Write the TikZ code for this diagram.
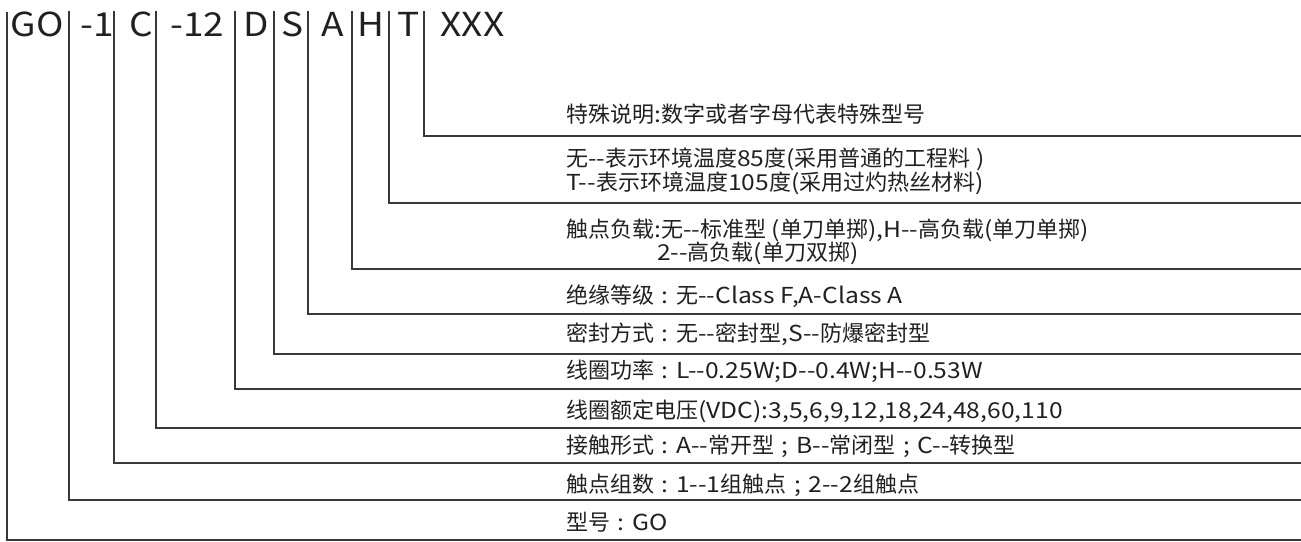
\documentclass[tikz,border=0pt]{standalone}
\usepackage{fontspec}
\setmainfont{Noto Sans CJK SC}[FakeStretch=1.12, Ligatures=TeXOff]
\newfontfamily\latf{Noto Sans CJK SC}[FakeStretch=1.12, Ligatures=TeXOff]
\newfontfamily\cjkf{Noto Sans CJK SC}[Ligatures=TeXOff]
\XeTeXinterchartokenstate=1
\newXeTeXintercharclass\cjkcls
\newcount\cjkcc
\cjkcc="4E00
\loop \XeTeXcharclass\cjkcc=\cjkcls \ifnum\cjkcc<"9FFF \advance\cjkcc by 1 \repeat
\XeTeXinterchartoks 0 \cjkcls = {\cjkf}
\XeTeXinterchartoks 4095 \cjkcls = {\cjkf}
\XeTeXinterchartoks \cjkcls 0 = {\latf}
\XeTeXinterchartoks \cjkcls 4095 = {\latf}
\newcommand\fcolon{\makebox[1em][c]{:}}
\newcommand\fsemi{\makebox[1em][c]{;}}
\definecolor{linec}{HTML}{3C3836}
\definecolor{txt}{HTML}{231F20}
\tikzset{
  conn/.style={draw=linec, line width=1.4pt},
  head/.style={font=\fontsize{33}{36}\selectfont, text=txt, inner sep=0pt, anchor=base},
  lab/.style={font=\fontsize{22}{24}\selectfont, text=txt, inner sep=0pt, anchor=base west},
}
\begin{document}
\begin{tikzpicture}[x=1pt,y=-1pt]
\useasboundingbox (0,0) rectangle (1301,541);
% header codes
\node[head] (hGO) at (37,36) {GO};
\node[head] (h1) at (97,36) {-1};
\node[head] (hC) at (141.5,36) {C};
\node[head] (h12) at (197.5,36) {-12};
\node[head] (hD) at (256,36) {D};
\node[head] (hS) at (293,36) {S};
\node[head] (hA) at (332.5,36) {A};
\node[head] (hH) at (371,36) {H};
\node[head] (hT) at (409,36) {T};
\node[head] (hX) at (472.5,36) {XXX};
% bar tops
\coordinate (tGO) at (7,12);
\coordinate (t1) at (69,11);
\coordinate (tC) at (114,11);
\coordinate (t12) at (156,11);
\coordinate (tD) at (235,11);
\coordinate (tS) at (274,11);
\coordinate (tA) at (308,11);
\coordinate (tH) at (352,11);
\coordinate (tT) at (389,11);
\coordinate (tX) at (424,11);
% right ends
\coordinate (eGO) at (1301,540);
\coordinate (e1) at (1301,500);
\coordinate (eC) at (1301,463);
\coordinate (e12) at (1301,428);
\coordinate (eD) at (1301,389);
\coordinate (eS) at (1301,354);
\coordinate (eA) at (1301,314);
\coordinate (eH) at (1301,269);
\coordinate (eT) at (1301,203);
\coordinate (eX) at (1301,136);
\draw[conn] (tGO) |- (eGO);
\draw[conn] (t1) |- (e1);
\draw[conn] (tC) |- (eC);
\draw[conn] (t12) |- (e12);
\draw[conn] (tD) |- (eD);
\draw[conn] (tS) |- (eS);
\draw[conn] (tA) |- (eA);
\draw[conn] (tH) |- (eH);
\draw[conn] (tT) |- (eT);
\draw[conn] (tX) |- (eX);
% labels
\node[lab] (lX) at (566,122) {特殊说明:数字或者字母代表特殊型号};
\node[lab] (lT1) at (566,166) {无--表示环境温度85度(采用普通的工程料 )};
\node[lab] (lT2) at (566,190) {T--表示环境温度105度(采用过灼热丝材料)};
\node[lab] (lH1) at (566,237) {触点负载:无--标准型 (单刀单掷),H--高负载(单刀单掷)};
\node[lab] (lH2) at (657,260) {2--高负载(单刀双掷)};
\node[lab] (lA) at (566,303) {绝缘等级\fcolon 无--Class F,A-Class A};
\node[lab] (lS) at (566,341) {密封方式\fcolon 无--密封型,S--防爆密封型};
\node[lab] (lD) at (566,378) {线圈功率\fcolon L--0.25W;D--0.4W;H--0.53W};
\node[lab] (l12) at (566,418) {线圈额定电压(VDC):3,5,6,9,12,18,24,48,60,110};
\node[lab] (lC) at (566,453) {接触形式\fcolon A--常开型\fsemi B--常闭型\fsemi C--转换型};
\node[lab] (l1) at (566,492) {触点组数\fcolon 1--1组触点\fsemi 2--2组触点};
\node[lab] (lGO) at (566,530) {型号\fcolon GO};
\end{tikzpicture}
\end{document}
